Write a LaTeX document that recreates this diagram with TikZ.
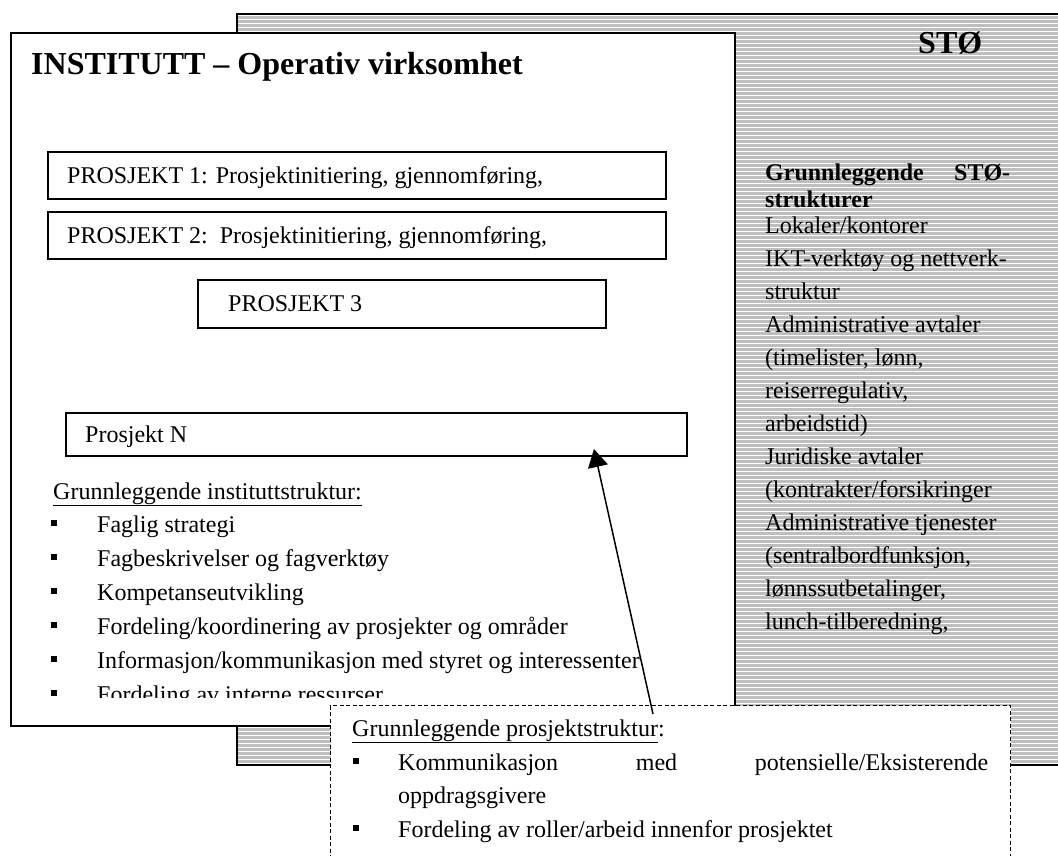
\documentclass[tikz,border=0pt]{standalone}
\usepackage{fontspec}
\setmainfont{Liberation Serif}
\usetikzlibrary{arrows.meta,calc}
\definecolor{hatchgray}{RGB}{190,190,190}
\begin{document}
\begin{tikzpicture}[x=1pt,y=-1pt,
  txt/.style={anchor=base west, inner sep=0pt, font=\fontsize{24}{28}\selectfont},
  btxt/.style={anchor=base west, inner sep=0pt, font=\fontsize{24}{28}\selectfont\bfseries},
  ttl/.style={anchor=base west, inner sep=0pt, font=\fontsize{32}{36}\selectfont\bfseries},
  pbox/.style={draw, line width=1.5pt, fill=white, anchor=north west, inner sep=0pt},
  bigbox/.style={draw, line width=2pt, anchor=north west, inner sep=0pt},
  bul/.style={fill=black}]
\useasboundingbox (0,0) rectangle (1058,855);
\clip (0,0) rectangle (1058,855);

% STO support box (hatched)
\node (sto) [bigbox, fill=hatchgray, minimum width=834pt, minimum height=751pt,
  path picture={\foreach \k in {0,...,190}{\draw[white,line width=1pt]
     ($(path picture bounding box.north west)+(0,4*\k+1)$) -- ++(900,0);}}]
  at (236,13) {};
\node (stot) [ttl] at (918,53) {STØ};
\node (s0) [btxt] at (765,180) {\makebox[245pt][s]{Grunnleggende\hfill STØ-}};
\node (s1) [btxt] at (765,207) {strukturer};
\foreach \t [count=\i from 0] in {{Lokaler/kontorer}, {IKT-verktøy og nettverk-}, {struktur},
  {Administrative avtaler}, {(timelister, lønn,}, {reiserregulativ,}, {arbeidstid)},
  {Juridiske avtaler}, {(kontrakter/forsikringer}, {Administrative tjenester},
  {(sentralbordfunksjon,}, {lønnssutbetalinger,}, {lunch-tilberedning,}}
  {\node (sl\i) [txt] at (765,233+33*\i) {\t};}

% INSTITUTT box
\node (inst) [bigbox, fill=white, minimum width=724pt, minimum height=693pt] at (10,32) {};
\node (instt) [ttl] at (31,74) {INSTITUTT – Operativ virksomhet};

\node (p1) [pbox, minimum width=618pt, minimum height=47pt] at (47,151) {};
\node (p1t) [txt] at (67,183) {PROSJEKT 1: Prosjektinitiering, gjennomføring,};
\node (p2) [pbox, minimum width=618pt, minimum height=47pt] at (47,211) {};
\node (p2t) [txt] at (67,243) {PROSJEKT 2:\ \ Prosjektinitiering, gjennomføring,};
\node (p3) [pbox, minimum width=408pt, minimum height=48pt] at (197,279) {};
\node (p3t) [txt] at (228,311) {PROSJEKT 3};
\node (pN) [pbox, minimum width=621pt, minimum height=43pt] at (65,412) {};
\node (pNt) [txt] at (85,442) {Prosjekt N};

\node (ih) [txt] at (53,499) {\underline{Grunnleggende instituttstruktur:}};
\begin{scope}
  \clip (0,0) rectangle (734,697);
  \foreach \t [count=\i from 0] in {{Faglig strategi}, {Fagbeskrivelser og fagverktøy},
    {Kompetanseutvikling}, {Fordeling/koordinering av prosjekter og områder},
    {Informasjon/kommunikasjon med styret og interessenter}, {Fordeling av interne ressurser}}{
    \fill (51,532+34*\i-12) rectangle ++(6,6);
    \node (il\i) [txt] at (97,532+34*\i) {\t};
  }
\end{scope}

% project structure box (dashed)
\node (prj) [draw, line width=1pt, dash pattern=on 4pt off 2.5pt, fill=white,
  anchor=north west, inner sep=0pt, minimum width=680pt, minimum height=200pt] at (330,705) {};
\node (ph) [txt] at (352,736) {\underline{Grunnleggende prosjektstruktur}:};
\fill (353,770-12) rectangle ++(6,6);
\node (pl0) [txt] at (398,770) {\makebox[590pt][s]{Kommunikasjon\hfill med\hfill potensielle/Eksisterende}};
\node (pl1) [txt] at (398,803) {oppdragsgivere};
\fill (353,837-12) rectangle ++(6,6);
\node (pl2) [txt] at (398,837) {Fordeling av roller/arbeid innenfor prosjektet};

% arrow
\coordinate (a0) at (653,714);
\coordinate (a1) at (594,449);
\draw[line width=1.5pt, -{Triangle[length=18pt,width=20pt]}] (a0) -- (a1);
\end{tikzpicture}
\end{document}
